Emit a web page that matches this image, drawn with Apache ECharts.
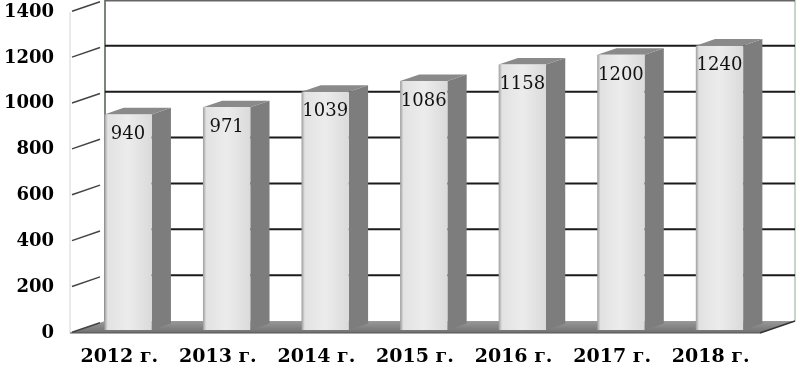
<!DOCTYPE html>
<html><head><meta charset="utf-8">
<script src="https://cdn.jsdelivr.net/npm/echarts@6/dist/echarts.min.js"></script>
<style>html,body{margin:0;padding:0;background:#fff}#c{width:806px;height:371px}</style>
</head><body><div id="c"></div>
<script>
const categories = ['2012 г.', '2013 г.', '2014 г.', '2015 г.', '2016 г.', '2017 г.', '2018 г.'];
const values = [940, 971, 1039, 1086, 1158, 1200, 1240];
const yTicks = [0, 200, 400, 600, 800, 1000, 1200, 1400];

const DX = 35, DY = -12;
const F1 = 0.25, F2 = 0.8;
const chart = echarts.init(document.getElementById('c'), null, {renderer: 'canvas'});

function wallsItem(params, api) {
  const cs = params.coordSys;
  const x0 = cs.x, x1 = cs.x + cs.width, yT = cs.y, yB = cs.y + cs.height;
  return {type: 'group', children: [
    {type: 'polygon', shape: {points: [[x0 + DX, yT + DY], [x1 + DX, yT + DY], [x1 + DX, yB + DY], [x0 + DX, yB + DY]]}, style: {fill: '#fff'}},
    {type: 'polygon', shape: {points: [[x0, yT], [x0 + DX, yT + DY], [x0 + DX, yB + DY], [x0, yB]]}, style: {fill: '#fff'}},
    {type: 'polygon', shape: {points: [[x0, yB], [x1, yB], [x1 + DX, yB + DY], [x0 + DX, yB + DY]]},
      style: {fill: {type: 'linear', x: 0, y: 0, x2: 0, y2: 1, colorStops: [{offset: 0, color: '#9a9a9a'}, {offset: 1, color: '#6f6f6f'}]}}},
    {type: 'line', shape: {x1: x0, y1: yT, x2: x0, y2: yB}, style: {stroke: '#d4d4d4', lineWidth: 1}},
    {type: 'line', shape: {x1: x0 + DX, y1: yT + DY, x2: x0 + DX, y2: yB + DY}, style: {stroke: '#4c5e4c', lineWidth: 1.5}},
    {type: 'line', shape: {x1: x1 + DX, y1: yT + DY, x2: x1 + DX, y2: yB + DY}, style: {stroke: '#b4cab4', lineWidth: 1.5}},
    {type: 'line', shape: {x1: x0, y1: yB, x2: x1, y2: yB}, style: {stroke: '#555', lineWidth: 1}},
    {type: 'line', shape: {x1: x1, y1: yB, x2: x1 + DX, y2: yB + DY}, style: {stroke: '#333', lineWidth: 1.5}}
  ]};
}

function gridItem(params, api) {
  const cs = params.coordSys;
  const x0 = cs.x, x1 = cs.x + cs.width;
  const t = api.value(1);
  const y = api.coord([0, t])[1];
  const children = [
    {type: 'line', shape: {x1: x0 + 2, y1: y - 0.7, x2: x0 + DX - 5, y2: y + DY * (DX - 5) / DX}, style: {stroke: '#444', lineWidth: 1.5}}
  ];
  if (t > 0) {
    children.push({type: 'line', shape: {x1: x0 + DX, y1: y + DY, x2: x1 + DX, y2: y + DY},
      style: {stroke: t === 1400 ? '#666' : '#1a1a1a', lineWidth: t === 1400 ? 3 : 2}});
  }
  return {type: 'group', children: children};
}

function barItem(params, api) {
  const i = api.value(0), v = api.value(1);
  const top = api.coord([i, v]);
  const bot = api.coord([i, 0]);
  const band = api.size([1, 0])[0];
  const w = band * 0.48;
  const fx = top[0] - w / 2 + DX * F1;
  const fyT = top[1] + DY * F1;
  const fyB = bot[1] + DY * F1;
  const ddx = DX * (F2 - F1), ddy = DY * (F2 - F1);
  return {type: 'group', children: [
    {type: 'polygon', shape: {points: [[fx + w, fyT], [fx + w + ddx, fyT + ddy], [fx + w + ddx, fyB + ddy], [fx + w, fyB]]}, style: {fill: '#7d7d7d'}},
    {type: 'polygon', shape: {points: [[fx, fyT], [fx + w, fyT], [fx + w + ddx, fyT + ddy], [fx + ddx, fyT + ddy]]}, style: {fill: '#8a8a8a'}},
    {type: 'rect', shape: {x: fx, y: fyT, width: w, height: fyB - fyT},
      style: {fill: {type: 'linear', x: 0, y: 0, x2: 1, y2: 0, colorStops: [
        {offset: 0, color: '#9c9c9c'}, {offset: 0.07, color: '#e2e2e2'}, {offset: 0.5, color: '#ececec'}, {offset: 1, color: '#dadada'}]}}},
    {type: 'text', style: {text: String(v), x: fx + w / 2, y: fyT + 20, align: 'center', verticalAlign: 'middle',
      fontFamily: 'DejaVu Serif', fontSize: 18, fill: '#111'}}
  ]};
}

chart.setOption({
  animation: false,
  grid: {left: 70, right: 46, top: 12, bottom: 38, containLabel: false, outerBoundsMode: 'none'},
  xAxis: {type: 'category', data: categories, axisLine: {show: false}, axisTick: {show: false}, splitLine: {show: false},
    axisLabel: {interval: 0, hideOverlap: false, margin: 15, fontFamily: 'DejaVu Serif', fontWeight: 'bold', fontSize: 19, color: '#000'}},
  yAxis: {type: 'value', min: 0, max: 1400, interval: 200, axisLine: {show: false}, axisTick: {show: false}, splitLine: {show: false},
    axisLabel: {margin: 16, fontFamily: 'DejaVu Serif', fontWeight: 'bold', fontSize: 18, color: '#000', formatter: v => String(v)}},
  series: [
    {type: 'custom', z: 1, clip: false, silent: true, renderItem: wallsItem, data: [[0, 0]], encode: {x: 0, y: 1}},
    {type: 'custom', z: 2, clip: false, silent: true, renderItem: gridItem, data: yTicks.map(t => [0, t]), encode: {x: 0, y: 1}},
    {type: 'custom', z: 3, clip: false, renderItem: barItem, data: values.map((v, i) => [i, v]), encode: {x: 0, y: 1}}
  ]
});
</script></body></html>
